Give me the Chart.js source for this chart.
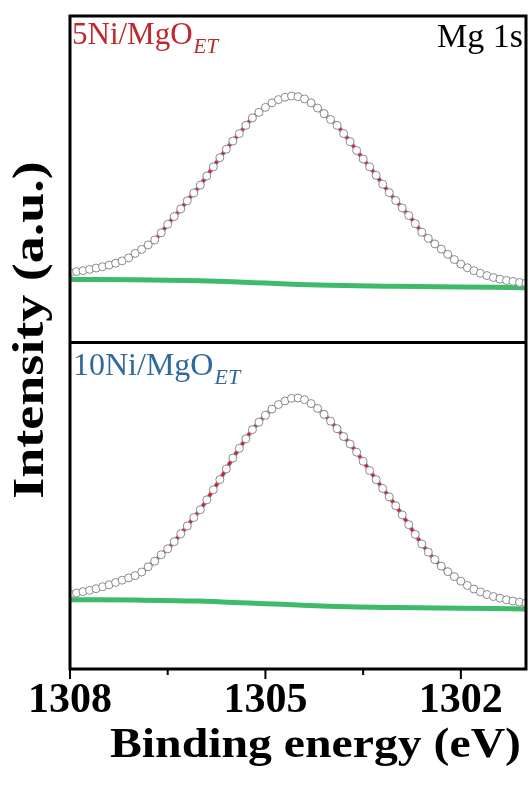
<!DOCTYPE html>
<html>
<head>
<meta charset="utf-8">
<script src="https://cdn.jsdelivr.net/npm/chart.js@4.4.1/dist/chart.umd.min.js"></script>
<style>
  html, body { margin: 0; padding: 0; background: #fff; }
  #wrap { width: 531px; height: 789px; position: relative; }
</style>
</head>
<body>
<div id="wrap"><canvas id="graficoMg"></canvas></div>
<script>
// binding energy (eV), 0.1 eV step
const energia = [1308.0, 1307.9, 1307.8, 1307.7, 1307.6, 1307.5, 1307.4, 1307.3, 1307.2, 1307.1,
  1307.0, 1306.9, 1306.8, 1306.7, 1306.6, 1306.5, 1306.4, 1306.3, 1306.2, 1306.1,
  1306.0, 1305.9, 1305.8, 1305.7, 1305.6, 1305.5, 1305.4, 1305.3, 1305.2, 1305.1,
  1305.0, 1304.9, 1304.8, 1304.7, 1304.6, 1304.5, 1304.4, 1304.3, 1304.2, 1304.1,
  1304.0, 1303.9, 1303.8, 1303.7, 1303.6, 1303.5, 1303.4, 1303.3, 1303.2, 1303.1,
  1303.0, 1302.9, 1302.8, 1302.7, 1302.6, 1302.5, 1302.4, 1302.3, 1302.2, 1302.1,
  1302.0, 1301.9, 1301.8, 1301.7, 1301.6, 1301.5, 1301.4, 1301.3, 1301.2, 1301.1,
  1301.0];

// 5Ni/MgO_ET (top panel)
const intensidade5Ni = [21.4, 21.7, 22.0, 22.4, 22.8, 23.2, 23.7, 24.3, 25.0, 25.9,
  27.3, 28.5, 29.9, 31.4, 33.6, 36.2, 38.6, 40.9, 43.4, 45.8,
  48.2, 51.0, 53.8, 56.6, 59.2, 61.7, 64.0, 66.5, 68.8, 70.5,
  72.0, 73.4, 74.4, 75.1, 75.5, 75.3, 74.6, 73.4, 71.8, 70.1,
  68.3, 66.5, 64.0, 61.5, 58.8, 56.2, 53.8, 51.2, 48.5, 45.9,
  43.5, 41.2, 38.9, 36.4, 33.8, 31.9, 30.2, 28.6, 27.0, 25.4,
  24.0, 22.9, 22.0, 21.2, 20.5, 19.9, 19.4, 19.0, 18.7, 18.4,
  18.2];

// 10Ni/MgO_ET (bottom panel)
const intensidade10Ni = [23.0, 23.3, 23.7, 24.1, 24.6, 25.2, 25.8, 26.5, 27.2, 27.9,
  28.6, 29.7, 31.3, 33.0, 35.0, 36.8, 39.0, 41.4, 43.8, 46.4,
  48.8, 51.8, 54.9, 58.0, 61.3, 64.6, 67.6, 70.5, 73.3, 75.6,
  77.7, 79.6, 81.0, 82.1, 82.9, 83.0, 82.5, 81.3, 79.8, 78.0,
  75.9, 73.6, 71.2, 68.9, 66.4, 63.6, 60.8, 58.0, 55.3, 52.7,
  50.0, 47.2, 44.2, 41.2, 38.3, 35.8, 33.5, 31.5, 29.8, 28.3,
  26.9, 25.6, 24.5, 23.6, 22.8, 22.2, 21.7, 21.2, 20.8, 20.5,
  20.2];

// Shirley background
const energiaFundo = [1308.0, 1307.0, 1306.0, 1305.5, 1305.0, 1304.5, 1304.0, 1303.0, 1302.0, 1301.0];
const fundo5Ni = [19.3, 19.2, 18.9, 18.6, 18.2, 17.8, 17.5, 17.2, 17.0, 16.8];
const fundo10Ni = [21.2, 21.1, 20.8, 20.4, 20.0, 19.6, 19.2, 18.8, 18.6, 18.4];

const ticksPrincipais = [1308, 1305, 1302];
const ticksSecundarios = [1306.5, 1303.5];

const tituloX = 'Binding energy (eV)';
const tituloY = 'Intensity (a.u.)';

const DESLOCAMENTO = 100; // top panel sits above the bottom one

function pontos(xs, ys, desloc) {
  return xs.map((x, i) => ({x: x, y: ys[i] + desloc}));
}

function conjuntos(dados, fundo, desloc) {
  return [
    { // measured points
      data: pontos(energia, dados, desloc),
      showLine: false,
      pointRadius: 4,
      pointBackgroundColor: '#ffffff',
      pointBorderColor: '#8a8a8a',
      pointBorderWidth: 1,
      order: 1
    },
    { // Mg 1s component
      data: pontos(energia, dados, desloc),
      showLine: true,
      borderColor: '#e3161d',
      borderWidth: 3,
      pointRadius: 0,
      cubicInterpolationMode: 'monotone',
      order: 2
    },
    { // envelope
      data: pontos(energia, dados, desloc),
      showLine: true,
      borderColor: '#8db4dc',
      borderWidth: 4.5,
      pointRadius: 0,
      cubicInterpolationMode: 'monotone',
      order: 3
    },
    { // background
      data: pontos(energiaFundo, fundo, desloc),
      showLine: true,
      borderColor: '#3dba6a',
      borderWidth: 5,
      pointRadius: 0,
      cubicInterpolationMode: 'monotone',
      order: 4
    }
  ];
}

const moldura = {
  id: 'moldura',
  afterDatasetsDraw(chart) {
    const {ctx, chartArea: a, scales: {x, y}} = chart;
    ctx.save();
    ctx.strokeStyle = '#000';
    ctx.lineWidth = 3;
    ctx.strokeRect(a.left, a.top, a.right - a.left, a.bottom - a.top);
    const yDiv = y.getPixelForValue(DESLOCAMENTO);
    ctx.beginPath();
    ctx.moveTo(a.left, yDiv);
    ctx.lineTo(a.right, yDiv);
    ctx.stroke();

    ctx.lineWidth = 2;
    ctx.beginPath();
    ticksPrincipais.forEach(v => {
      const px = x.getPixelForValue(v);
      ctx.moveTo(px, a.bottom);
      ctx.lineTo(px, a.bottom + 10);
    });
    ticksSecundarios.forEach(v => {
      const px = x.getPixelForValue(v);
      ctx.moveTo(px, a.bottom);
      ctx.lineTo(px, a.bottom + 6);
    });
    ctx.stroke();

    // sample labels
    ctx.textBaseline = 'alphabetic';
    ctx.textAlign = 'left';
    function rotulo(txt, sub, cor, tam, px, py) {
      ctx.fillStyle = cor;
      ctx.font = tam + 'px "Liberation Serif"';
      ctx.fillText(txt, px, py);
      const w = ctx.measureText(txt).width;
      ctx.font = 'italic ' + Math.round(tam * 0.68) + 'px "Liberation Serif"';
      ctx.fillText(sub, px + w + 1, py + 9);
    }
    rotulo('5Ni/MgO', 'ET', '#c1272d', 31, a.left + 2, a.top + 28);
    rotulo('10Ni/MgO', 'ET', '#2f6a9c', 32, a.left + 3, yDiv + 32);

    ctx.fillStyle = '#000';
    ctx.font = '34px "Liberation Serif"';
    ctx.textAlign = 'right';
    ctx.fillText('Mg 1s', a.right - 3, a.top + 31);

    // axis titles (glyphs in the figure are stretched along the text)
    ctx.font = 'bold 43px "Liberation Serif"';
    ctx.textAlign = 'right';
    ctx.save();
    ctx.translate(a.right - 5, 757);
    ctx.scale(1.11, 1);
    ctx.fillText(tituloX, 0, 0);
    ctx.restore();

    ctx.font = 'bold 45px "Liberation Serif"';
    ctx.textAlign = 'center';
    ctx.save();
    ctx.translate(43, 330);
    ctx.rotate(-Math.PI / 2);
    ctx.scale(1.2, 1);
    ctx.fillText(tituloY, 0, 0);
    ctx.restore();

    ctx.restore();
  }
};

const grafico = new Chart(document.getElementById('graficoMg'), {
  type: 'scatter',
  data: {
    datasets: [
      ...conjuntos(intensidade5Ni, fundo5Ni, DESLOCAMENTO),
      ...conjuntos(intensidade10Ni, fundo10Ni, 0)
    ]
  },
  options: {
    responsive: true,
    maintainAspectRatio: false,
    animation: false,
    layout: { padding: { top: 16, right: 4, left: 0, bottom: 0 } },
    plugins: { legend: { display: false }, tooltip: { enabled: false } },
    scales: {
      x: {
        type: 'linear',
        reverse: true,
        min: 1301,
        max: 1308,
        grid: { display: false, drawTicks: false },
        border: { display: false },
        afterBuildTicks: (scale) => {
          scale.ticks = ticksPrincipais.map(v => ({value: v}));
        },
        afterFit: (scale) => { scale.height = 120; },
        ticks: {
          padding: 7,
          maxRotation: 0,
          color: '#000',
          font: { family: '"Liberation Serif"', weight: 'bold', size: 42 },
          callback: (v) => String(v)
        }
      },
      y: {
        min: 0,
        max: 200,
        grid: { display: false, drawTicks: false },
        border: { display: false },
        ticks: { display: false },
        afterFit: (scale) => { scale.width = 70; }
      }
    }
  },
  plugins: [moldura]
});
</script>
</body>
</html>
